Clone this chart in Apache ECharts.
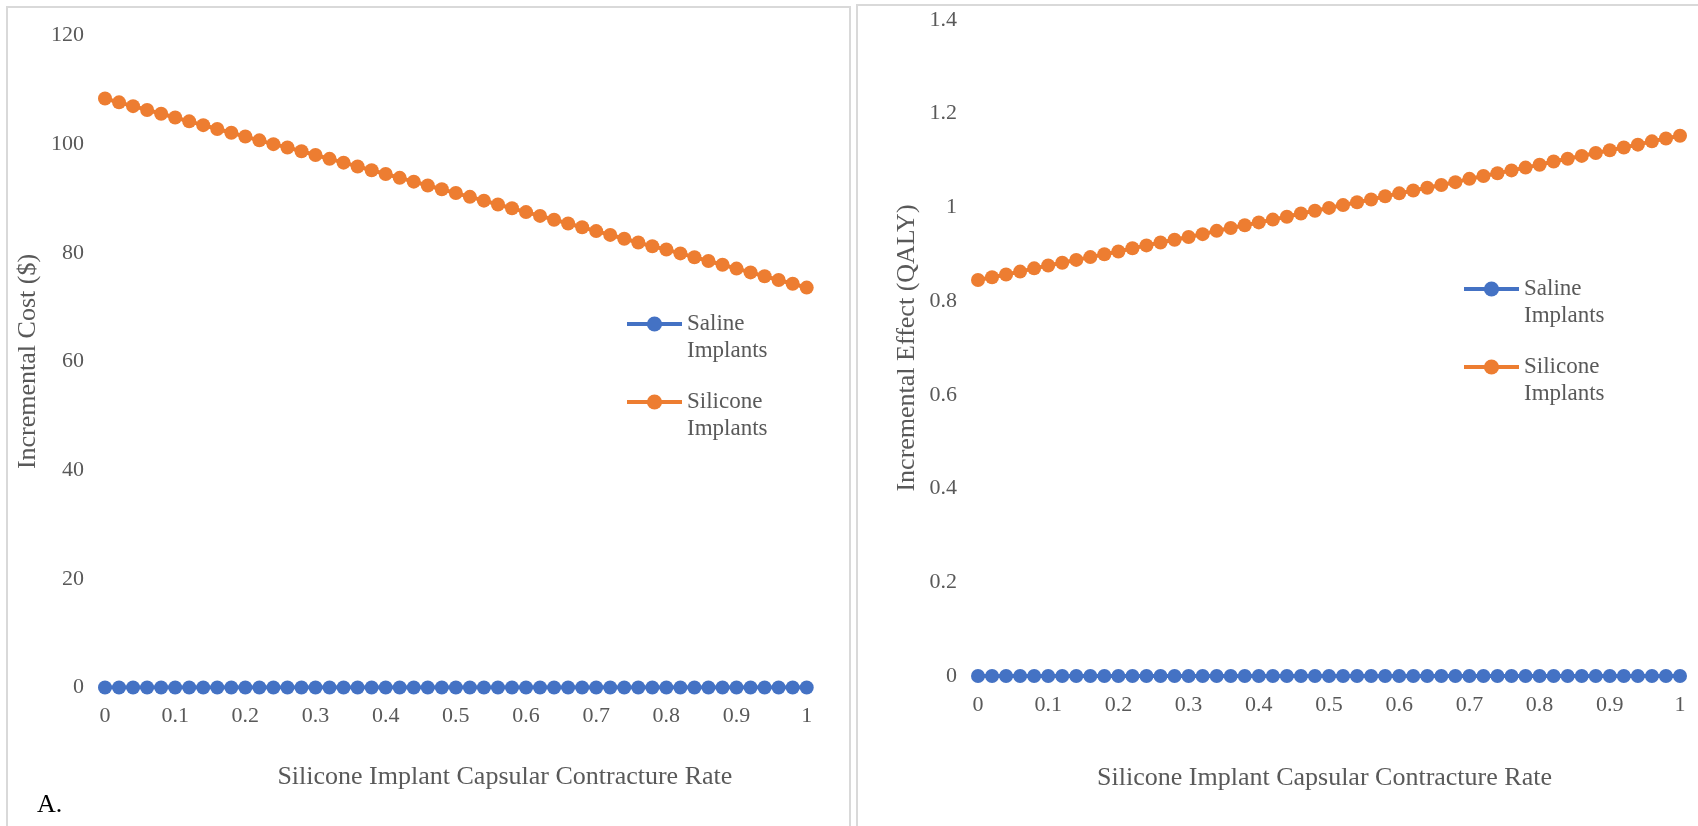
<!DOCTYPE html>
<html>
<head>
<meta charset="utf-8">
<script src="https://cdn.jsdelivr.net/npm/echarts@6/dist/echarts.min.js"></script>
<style>
html,body{margin:0;padding:0;background:#fff;}
#chart{width:1698px;height:826px;}
</style>
</head>
<body>
<div id="chart"></div>
<script>
// ---- data ----
const contractureRates = [0,0.02,0.04,0.06,0.08,0.1,0.12,0.14,0.16,0.18,0.2,0.22,0.24,0.26,0.28,0.3,0.32,0.34,0.36,0.38,0.4,0.42,0.44,0.46,0.48,0.5,0.52,0.54,0.56,0.58,0.6,0.62,0.64,0.66,0.68,0.7,0.72,0.74,0.76,0.78,0.8,0.82,0.84,0.86,0.88,0.9,0.92,0.94,0.96,0.98,1];
const salineCost = [0,0,0,0,0,0,0,0,0,0,0,0,0,0,0,0,0,0,0,0,0,0,0,0,0,0,0,0,0,0,0,0,0,0,0,0,0,0,0,0,0,0,0,0,0,0,0,0,0,0,0];
const siliconeCost = [108.4,107.7,107.0,106.3,105.6,104.9,104.2,103.5,102.8,102.1,101.4,100.7,100.0,99.4,98.7,98.0,97.3,96.6,95.9,95.2,94.5,93.8,93.1,92.4,91.7,91.0,90.3,89.6,88.9,88.2,87.5,86.8,86.1,85.4,84.7,84.0,83.3,82.6,81.9,81.2,80.6,79.9,79.2,78.5,77.8,77.1,76.4,75.7,75.0,74.3,73.6];
const salineEffect = [0,0,0,0,0,0,0,0,0,0,0,0,0,0,0,0,0,0,0,0,0,0,0,0,0,0,0,0,0,0,0,0,0,0,0,0,0,0,0,0,0,0,0,0,0,0,0,0,0,0,0];
const siliconeEffect = [0.845,0.851,0.857,0.863,0.870,0.876,0.882,0.888,0.894,0.900,0.906,0.913,0.919,0.925,0.931,0.937,0.943,0.950,0.956,0.962,0.968,0.974,0.980,0.987,0.993,0.999,1.005,1.011,1.017,1.024,1.030,1.036,1.042,1.048,1.054,1.061,1.067,1.073,1.079,1.085,1.091,1.098,1.104,1.110,1.116,1.122,1.128,1.134,1.141,1.147,1.153];
const seriesNames = ['Saline Implants', 'Silicone Implants'];
const xTitle = 'Silicone Implant Capsular Contracture Rate';
const yTitles = ['Incremental Cost ($)', 'Incremental Effect (QALY)'];
const panelLabel = 'A.';

// ---- styling ----
const FONT = '"Liberation Serif", "Times New Roman", serif';
const GRAY = '#595959';
const BLUE = '#4472C4';
const ORANGE = '#ED7D31';

function pairs(xs, ys){ return xs.map((x,i)=>[x, ys[i]]); }

function lineSeries(name, color, xIdx, data){
  return {
    name: name, type: 'line', xAxisIndex: xIdx, yAxisIndex: xIdx,
    data: data, symbol: 'circle', symbolSize: 14, showSymbol: true,
    lineStyle: {color: color, width: 4},
    itemStyle: {color: color},
    emphasis: {disabled: true},
    animation: false
  };
}

function legend(name, left, top){
  return {
    data: [name], left: left, top: top, orient: 'vertical',
    itemWidth: 55, itemHeight: 19, padding: 0,
    lineStyle: {width: 4},
    formatter: n => '\n' + n.replace(' ', '\n'),
    textStyle: {fontFamily: FONT, fontSize: 23, color: GRAY, lineHeight: 27},
    selectedMode: false
  };
}

const axisLabel = {fontFamily: FONT, fontSize: 22, color: GRAY};

const chart = echarts.init(document.getElementById('chart'), null, {renderer: 'canvas'});
chart.setOption({
  backgroundColor: '#fff',
  animation: false,
  graphic: [
    {type: 'rect', shape: {x: 7, y: 7, width: 843, height: 840}, style: {fill: 'none', stroke: '#d9d9d9', lineWidth: 2}, silent: true},
    {type: 'rect', shape: {x: 857, y: 5, width: 860, height: 840}, style: {fill: 'none', stroke: '#d9d9d9', lineWidth: 2}, silent: true},
    {type: 'text', left: 37, top: 792, style: {text: panelLabel, fontFamily: FONT, fontSize: 26, fill: '#000'}, silent: true}
  ],
  grid: [
    {left: 105, right: 891.3, top: 35.5, bottom: 138.5},
    {left: 978, right: 18, top: 20, bottom: 150}
  ],
  xAxis: [
    {gridIndex: 0, type: 'value', min: 0, max: 1, interval: 0.1,
     axisLine: {show: true, lineStyle: {color: '#d9d9d9'}}, axisTick: {show: false}, splitLine: {show: false},
     axisLabel: Object.assign({margin: 18}, axisLabel),
     name: xTitle, nameLocation: 'middle', nameGap: 77,
     nameTextStyle: {fontFamily: FONT, fontSize: 26, color: GRAY, padding: [0,0,0,98]}},
    {gridIndex: 1, type: 'value', min: 0, max: 1, interval: 0.1,
     axisLine: {show: true, lineStyle: {color: '#d9d9d9'}}, axisTick: {show: false}, splitLine: {show: false},
     axisLabel: Object.assign({margin: 18}, axisLabel),
     name: xTitle, nameLocation: 'middle', nameGap: 89,
     nameTextStyle: {fontFamily: FONT, fontSize: 26, color: GRAY, padding: [0,9,0,0]}}
  ],
  yAxis: [
    {gridIndex: 0, type: 'value', min: 0, max: 120, interval: 20,
     axisLine: {show: false}, axisTick: {show: false}, splitLine: {show: false},
     axisLabel: Object.assign({margin: 21}, axisLabel),
     name: yTitles[0], nameLocation: 'middle', nameRotate: 90, nameGap: 64,
     nameTextStyle: {fontFamily: FONT, fontSize: 26, color: GRAY}},
    {gridIndex: 1, type: 'value', min: 0, max: 1.4, interval: 0.2,
     axisLine: {show: false}, axisTick: {show: false}, splitLine: {show: false},
     axisLabel: Object.assign({margin: 21}, axisLabel),
     name: yTitles[1], nameLocation: 'middle', nameRotate: 90, nameGap: 58,
     nameTextStyle: {fontFamily: FONT, fontSize: 26, color: GRAY}}
  ],
  legend: [
    legend(seriesNames[0], 625, 283.5),
    legend(seriesNames[1], 625, 361.5),
    legend(seriesNames[0], 1462, 248.5),
    legend(seriesNames[1], 1462, 326.5)
  ],
  series: [
    lineSeries(seriesNames[0], BLUE, 0, pairs(contractureRates, salineCost)),
    lineSeries(seriesNames[1], ORANGE, 0, pairs(contractureRates, siliconeCost)),
    lineSeries(seriesNames[0], BLUE, 1, pairs(contractureRates, salineEffect)),
    lineSeries(seriesNames[1], ORANGE, 1, pairs(contractureRates, siliconeEffect))
  ]
});
</script>
</body>
</html>
